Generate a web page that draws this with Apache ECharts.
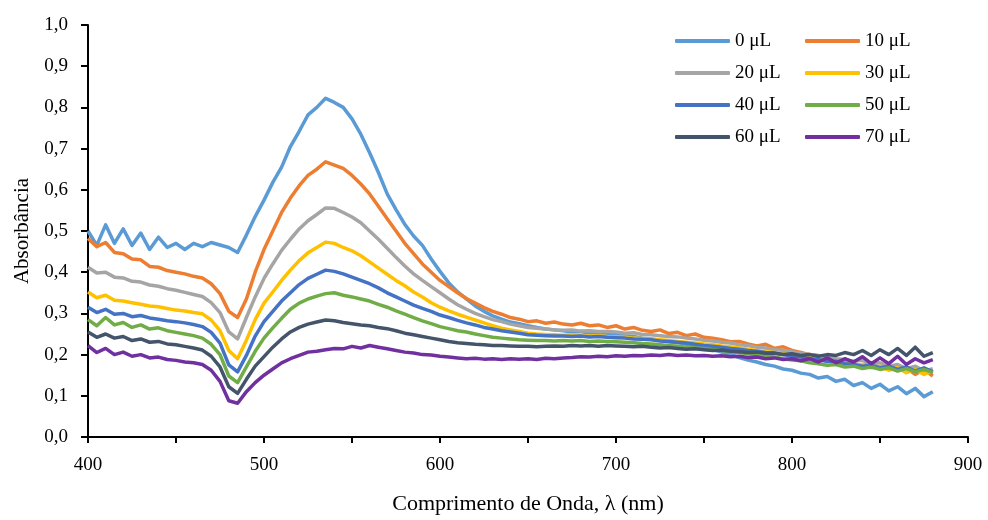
<!DOCTYPE html>
<html>
<head>
<meta charset="utf-8">
<script src="https://cdn.jsdelivr.net/npm/echarts@6/dist/echarts.min.js"></script>
<style>
  html, body { margin: 0; padding: 0; background: #fff; }
  #chart { width: 988px; height: 520px; }
</style>
</head>
<body>
<div id="chart"></div>
<script>
// wavelength grid, nm (every 5 nm from 400 to 880)
var wavelengths = [];
for (var w = 400; w <= 880; w += 5) wavelengths.push(w);

var seriesNames = ['0 μL', '10 μL', '20 μL', '30 μL', '40 μL', '50 μL', '60 μL', '70 μL'];
var seriesColors = ['#5B9BD5', '#ED7D31', '#A5A5A5', '#FFC000', '#4472C4', '#70AD47', '#44546A', '#7030A0'];

// absorbance (rows of 50 nm)
var abs0 = [
  0.50, 0.465, 0.515, 0.47, 0.505, 0.465, 0.495, 0.455, 0.485, 0.46,
  0.47, 0.455, 0.47, 0.462, 0.472, 0.466, 0.46, 0.448, 0.49, 0.535,
  0.575, 0.618, 0.655, 0.705, 0.742, 0.782, 0.80, 0.822, 0.812, 0.80,
  0.772, 0.735, 0.69, 0.642, 0.59, 0.552, 0.516, 0.488, 0.465, 0.432,
  0.402, 0.374, 0.352, 0.335, 0.318, 0.305, 0.294, 0.286, 0.279, 0.275,
  0.27, 0.266, 0.262, 0.26, 0.258, 0.255, 0.256, 0.252, 0.25, 0.251,
  0.248, 0.246, 0.244, 0.24, 0.238, 0.235, 0.231, 0.229, 0.225, 0.221,
  0.218, 0.212, 0.206, 0.20, 0.193, 0.187, 0.182, 0.176, 0.172, 0.165,
  0.162, 0.155, 0.152, 0.143, 0.147, 0.135, 0.14, 0.125, 0.132, 0.118,
  0.128, 0.112, 0.122, 0.105, 0.118, 0.098, 0.11
];
var abs10 = [
  0.482, 0.462, 0.472, 0.448, 0.445, 0.432, 0.43, 0.414, 0.412, 0.404,
  0.40, 0.396, 0.39, 0.386, 0.372, 0.348, 0.305, 0.29, 0.335, 0.40,
  0.455, 0.50, 0.545, 0.58, 0.61, 0.635, 0.65, 0.668, 0.66, 0.652,
  0.635, 0.614, 0.59, 0.56, 0.53, 0.50, 0.47, 0.445, 0.42, 0.40,
  0.38, 0.365, 0.35, 0.336, 0.325, 0.314, 0.305, 0.298, 0.29, 0.286,
  0.28, 0.282, 0.276, 0.279, 0.274, 0.272, 0.276, 0.27, 0.272, 0.266,
  0.27, 0.262, 0.266, 0.259, 0.256, 0.26, 0.251, 0.254, 0.246, 0.25,
  0.242, 0.24, 0.236, 0.231, 0.232, 0.226, 0.221, 0.225, 0.215, 0.219,
  0.21, 0.205, 0.20, 0.198, 0.19, 0.188, 0.184, 0.176, 0.174, 0.178,
  0.168, 0.174, 0.162, 0.168, 0.152, 0.164, 0.148
];
var abs20 = [
  0.412, 0.398, 0.40, 0.388, 0.386, 0.378, 0.376, 0.369, 0.366, 0.36,
  0.356, 0.351, 0.346, 0.341, 0.326, 0.302, 0.255, 0.238, 0.29, 0.34,
  0.385, 0.42, 0.453, 0.48, 0.505, 0.525, 0.54, 0.556, 0.555, 0.545,
  0.534, 0.52, 0.50, 0.48, 0.458, 0.436, 0.415, 0.396, 0.38, 0.365,
  0.35, 0.335, 0.321, 0.31, 0.30, 0.292, 0.285, 0.28, 0.274, 0.27,
  0.266, 0.264, 0.262, 0.26, 0.259, 0.26, 0.257, 0.258, 0.256, 0.256,
  0.255, 0.252, 0.253, 0.249, 0.248, 0.246, 0.244, 0.243, 0.24, 0.238,
  0.235, 0.233, 0.23, 0.228, 0.224, 0.222, 0.218, 0.216, 0.212, 0.21,
  0.207, 0.203, 0.20, 0.197, 0.194, 0.19, 0.188, 0.184, 0.186, 0.178,
  0.18, 0.172, 0.176, 0.166, 0.172, 0.16, 0.166
];
var abs30 = [
  0.352, 0.338, 0.344, 0.332, 0.33, 0.326, 0.322, 0.318, 0.316, 0.312,
  0.308, 0.306, 0.302, 0.299, 0.284, 0.258, 0.21, 0.19, 0.235, 0.285,
  0.325, 0.352, 0.38, 0.405, 0.428, 0.447, 0.46, 0.473, 0.47, 0.46,
  0.452, 0.44, 0.425, 0.41, 0.395, 0.38, 0.367, 0.352, 0.34, 0.326,
  0.315, 0.306, 0.298, 0.291, 0.284, 0.277, 0.27, 0.264, 0.26, 0.256,
  0.252, 0.25, 0.249, 0.248, 0.247, 0.248, 0.246, 0.245, 0.246, 0.244,
  0.243, 0.242, 0.24, 0.239, 0.237, 0.236, 0.234, 0.232, 0.23, 0.228,
  0.226, 0.224, 0.221, 0.219, 0.216, 0.213, 0.21, 0.207, 0.205, 0.202,
  0.198, 0.196, 0.192, 0.19, 0.185, 0.182, 0.178, 0.174, 0.176, 0.168,
  0.172, 0.162, 0.168, 0.156, 0.164, 0.152, 0.16
];
var abs40 = [
  0.315, 0.302, 0.31, 0.298, 0.30, 0.292, 0.295, 0.289, 0.286, 0.282,
  0.28, 0.277, 0.273, 0.268, 0.254, 0.228, 0.175, 0.158, 0.198, 0.245,
  0.28, 0.305, 0.33, 0.35, 0.37, 0.385, 0.395, 0.405, 0.402, 0.396,
  0.388, 0.38, 0.372, 0.362, 0.35, 0.34, 0.33, 0.32, 0.312, 0.305,
  0.296, 0.29, 0.283, 0.277, 0.272, 0.266, 0.262, 0.258, 0.255, 0.252,
  0.248, 0.247, 0.246, 0.245, 0.245, 0.244, 0.245, 0.243, 0.244, 0.242,
  0.241, 0.24, 0.238, 0.237, 0.236, 0.233, 0.232, 0.23, 0.228, 0.225,
  0.222, 0.22, 0.218, 0.215, 0.213, 0.21, 0.208, 0.205, 0.203, 0.20,
  0.196, 0.194, 0.19, 0.188, 0.183, 0.184, 0.178, 0.176, 0.172, 0.174,
  0.168, 0.172, 0.164, 0.17, 0.16, 0.168, 0.158
];
var abs50 = [
  0.285, 0.27, 0.29, 0.272, 0.278, 0.266, 0.272, 0.262, 0.265, 0.258,
  0.254, 0.25, 0.246, 0.24, 0.225, 0.2, 0.148, 0.132, 0.17, 0.208,
  0.24, 0.265, 0.288, 0.31, 0.325, 0.335, 0.342, 0.348, 0.35, 0.344,
  0.34, 0.335, 0.33, 0.322, 0.315, 0.306, 0.298, 0.29, 0.282, 0.275,
  0.268, 0.263, 0.258, 0.255, 0.25, 0.246, 0.242, 0.24, 0.238, 0.236,
  0.235, 0.234, 0.234, 0.233, 0.234, 0.233, 0.234, 0.232, 0.233, 0.232,
  0.231, 0.23, 0.229, 0.227, 0.226, 0.224, 0.222, 0.22, 0.218, 0.216,
  0.215, 0.212, 0.21, 0.207, 0.205, 0.202, 0.2, 0.197, 0.194, 0.19,
  0.187, 0.185, 0.18, 0.178, 0.174, 0.176, 0.17, 0.172, 0.166, 0.17,
  0.164, 0.168, 0.16, 0.166, 0.158, 0.164, 0.156
];
var abs60 = [
  0.255, 0.242, 0.25, 0.24, 0.244, 0.234, 0.238, 0.23, 0.232, 0.226,
  0.224, 0.22, 0.216, 0.211, 0.196, 0.17, 0.122, 0.106, 0.14, 0.172,
  0.195, 0.218, 0.238, 0.255, 0.266, 0.274, 0.279, 0.284, 0.282, 0.278,
  0.275, 0.272, 0.27, 0.266, 0.263, 0.258, 0.252, 0.248, 0.244, 0.24,
  0.236, 0.232, 0.229, 0.227, 0.225, 0.224, 0.222, 0.222, 0.221, 0.22,
  0.22, 0.219, 0.22, 0.221, 0.22, 0.222, 0.221, 0.222, 0.22, 0.222,
  0.221, 0.22, 0.219, 0.22, 0.218, 0.216, 0.217, 0.215, 0.213, 0.214,
  0.212, 0.21, 0.211, 0.208, 0.207, 0.205, 0.206, 0.203, 0.204, 0.20,
  0.202, 0.198, 0.20, 0.196, 0.20, 0.198, 0.205, 0.20, 0.21, 0.198,
  0.212, 0.20, 0.215, 0.198, 0.218, 0.196, 0.205
];
var abs70 = [
  0.222, 0.205, 0.215, 0.20, 0.206, 0.196, 0.20, 0.192, 0.194, 0.188,
  0.186, 0.182, 0.18, 0.176, 0.162, 0.135, 0.088, 0.082, 0.11, 0.132,
  0.15, 0.165, 0.18, 0.19, 0.198, 0.206, 0.208, 0.212, 0.215, 0.214,
  0.22, 0.216, 0.222, 0.218, 0.214, 0.21, 0.206, 0.204, 0.20, 0.199,
  0.196, 0.194, 0.192, 0.19, 0.191, 0.189, 0.19, 0.188, 0.19, 0.189,
  0.19, 0.188, 0.191, 0.19, 0.192, 0.193, 0.195, 0.194, 0.196, 0.195,
  0.197, 0.196, 0.198, 0.197, 0.199, 0.198, 0.20, 0.198, 0.199, 0.197,
  0.198, 0.196, 0.197, 0.195, 0.196, 0.193, 0.194, 0.19, 0.192, 0.188,
  0.19, 0.185, 0.19, 0.182, 0.192, 0.18, 0.19, 0.182, 0.195, 0.178,
  0.192, 0.178, 0.196, 0.176, 0.19, 0.18, 0.188
];

var allAbs = [abs0, abs10, abs20, abs30, abs40, abs50, abs60, abs70];

var font = 'Liberation Serif';
var myChart = echarts.init(document.getElementById('chart'), null, { renderer: 'canvas' });

var series = allAbs.map(function (vals, k) {
  return {
    name: seriesNames[k],
    type: 'line',
    showSymbol: false,
    animation: false,
    color: seriesColors[k],
    lineStyle: { width: 3.5, color: seriesColors[k], join: 'round' },
    data: vals.map(function (v, i) { return [wavelengths[i], v]; })
  };
});

var option = {
  animation: false,
  backgroundColor: '#fff',
  grid: { left: 88, right: 20, top: 25, bottom: 81, containLabel: false },
  legend: {
    data: seriesNames,
    left: 675,
    top: 30,
    padding: 0,
    width: 270,
    itemWidth: 55,
    itemHeight: 4,
    itemGap: 10,
    icon: 'roundRect',
    textStyle: { fontFamily: font, fontSize: 19, color: '#000', width: 60, lineHeight: 22 }
  },
  xAxis: {
    type: 'value',
    min: 400,
    max: 900,
    interval: 50,
    name: 'Comprimento de Onda, λ (nm)',
    nameLocation: 'middle',
    nameGap: 56,
    nameTextStyle: { fontFamily: font, fontSize: 22, color: '#000' },
    axisLine: { lineStyle: { color: '#000', width: 2 } },
    axisTick: { length: 6, lineStyle: { color: '#000', width: 2 } },
    axisLabel: {
      margin: 19,
      fontFamily: font, fontSize: 19, color: '#000',
      formatter: function (v) { return v % 100 === 0 ? String(v) : ''; }
    },
    splitLine: { show: false }
  },
  yAxis: {
    type: 'value',
    min: 0,
    max: 1,
    interval: 0.1,
    name: 'Absorbância',
    nameLocation: 'middle',
    nameGap: 55,
    nameTextStyle: { fontFamily: font, fontSize: 21, color: '#000' },
    axisLine: { show: true, lineStyle: { color: '#000', width: 2 } },
    axisTick: { show: true, length: 7, lineStyle: { color: '#000', width: 2 } },
    axisLabel: {
      margin: 20,
      fontFamily: font, fontSize: 19, color: '#000',
      formatter: function (v) { return v.toFixed(1).replace('.', ','); }
    },
    splitLine: { show: false }
  },
  series: series
};

myChart.setOption(option, true);
</script>
</body>
</html>
